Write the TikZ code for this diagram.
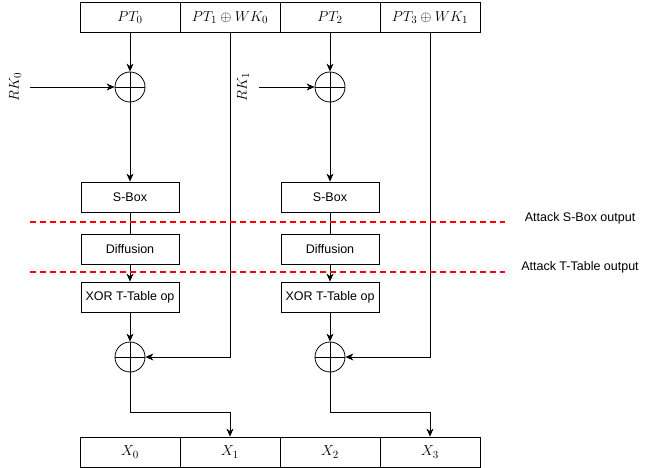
\documentclass[tikz,border=0pt]{standalone}
\usepackage{fontspec}
\setmainfont{Liberation Sans}
\usepackage{tikz}
\usetikzlibrary{shapes}
\usetikzlibrary{arrows.meta}
\usetikzlibrary{calc}
\begin{document}
\begin{tikzpicture}[x=1pt,y=-1pt,line width=0.8pt,>={Stealth[length=8pt,width=7pt,inset=2.5pt]}]
\tikzstyle{cell} = [rectangle, draw=black, minimum width=100pt, minimum height=30pt, inner sep=0pt, font=\fontsize{15.5}{18}\selectfont]
\tikzstyle{block} = [rectangle, draw=black, minimum width=98pt, minimum height=30pt, inner sep=0pt, font=\fontsize{12.5}{15}\selectfont]
\tikzstyle{xor} = [circle, draw=black, minimum size=30pt, inner sep=0pt, path picture={\draw (path picture bounding box.north) -- (path picture bounding box.south) (path picture bounding box.west) -- (path picture bounding box.east);}]
\tikzstyle{key} = [rotate=90, inner sep=0pt, font=\fontsize{15.5}{18}\selectfont]
\tikzstyle{attack} = [draw=red, line width=1.8pt, dash pattern=on 6pt off 4pt]
\tikzstyle{note} = [font=\fontsize{12.5}{15}\selectfont]
\useasboundingbox (0,0) rectangle (651,468);
% input words
\node [cell] (pt0) at (130,17.5) {$PT_0$};
\node [cell] (pt1) at (230,17.5) {$PT_1\oplus WK_0$};
\node [cell] (pt2) at (330,17.5) {$PT_2$};
\node [cell] (pt3) at (430,17.5) {$PT_3\oplus WK_1$};
% round keys
\node [key] (rk0) at (15,87) {$RK_0$};
\node [key] (rk1) at (243,87) {$RK_1$};
\coordinate (k0) at (30,87);
\coordinate (k1) at (259,87);
\node [xor] (xa) at (130,87) {};
\node [xor] (xc) at (330,87) {};
% left branch
\node [block] (sbox0) at (130,197) {S-Box};
\node [block] (diff0) at (130,249) {Diffusion};
\node [block] (tt0) at (130,297) {XOR T-Table op};
% right branch
\node [block] (sbox1) at (330,197) {S-Box};
\node [block] (diff1) at (330,249) {Diffusion};
\node [block] (tt1) at (330,297) {XOR T-Table op};
\node [xor] (xb) at (130,357) {};
\node [xor] (xd) at (330,357) {};
% outputs
\node [cell] (x0) at (130,452) {$X_0$};
\node [cell] (x1) at (230,452) {$X_1$};
\node [cell] (x2) at (330,452) {$X_2$};
\node [cell] (x3) at (430,452) {$X_3$};
\coordinate (m1) at (230,412);
\coordinate (m3) at (430,412);
% attack points
\coordinate (sa) at (30,222);
\coordinate (sb) at (505,222);
\coordinate (ta) at (30,272);
\coordinate (tb) at (505,272);
\node [note] (asbox) at (580,218) {Attack S-Box output};
\node [note] (atab) at (580,267) {Attack T-Table output};
\draw[->] (pt0) -- (xa);
\draw[->] (pt2) -- (xc);
\draw[->] (k0) -- (xa);
\draw[->] (k1) -- (xc);
\draw[->] (xa) -- (sbox0);
\draw[->] (xc) -- (sbox1);
\draw (sbox0) -- (diff0);
\draw (sbox1) -- (diff1);
\draw[->] (diff0) -- (tt0);
\draw[->] (diff1) -- (tt1);
\draw[->] (tt0) -- (xb);
\draw[->] (tt1) -- (xd);
\draw[->] (pt1) |- (xb);
\draw[->] (pt3) |- (xd);
\draw[->] (xb) |- (m1) -- (x1);
\draw[->] (xd) |- (m3) -- (x3);
\draw[attack] (sa) -- (sb);
\draw[attack] (ta) -- (tb);
\end{tikzpicture}
\end{document}
